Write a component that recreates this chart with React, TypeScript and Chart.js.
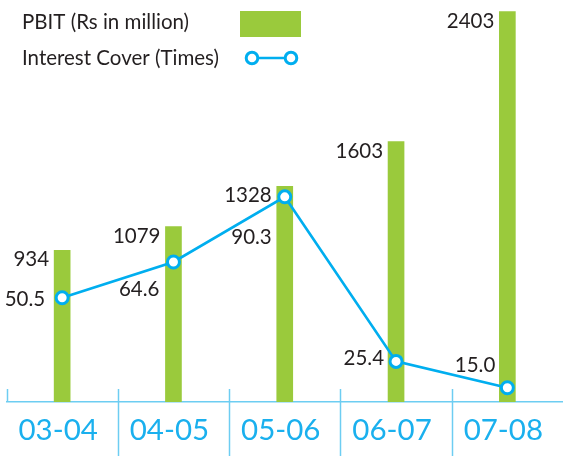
import { useEffect, useRef } from "react";
import { Chart, registerables } from "chart.js";

Chart.register(...registerables);

// ---- data ----
const categories = ["03-04", "04-05", "05-06", "06-07", "07-08"];
const pbit = [934, 1079, 1328, 1603, 2403];
const interestCover = [50.5, 64.6, 90.3, 25.4, 15.0];
const legendLabels = ["PBIT (Rs in million)", "Interest Cover (Times)"];

// ---- styles ----
const GREEN = "#9aca3c";
const CYAN = "#00aeef";
const AXIS = "#6dcdf2";
const TEXT = "#231f20";
const FONT = "Lato";
// label offsets for the line values (relative to point: right edge dx, baseline dy)
const lineLabelOffsets = [
  [-17, 8],
  [-14, 34],
  [-13, 47],
  [-12, 4],
  [-12, -16],
];

const overlayPlugin = {
  id: "overlay",
  afterDraw(chart: any) {
    const ctx = chart.ctx;
    const xs = chart.scales.x;
    const area = chart.chartArea;
    ctx.save();
    // separators
    ctx.strokeStyle = AXIS;
    ctx.lineWidth = 1.5;
    const step = xs.getPixelForValue(1) - xs.getPixelForValue(0);
    for (let i = 0; i < categories.length; i++) {
      const x = Math.round(xs.getPixelForValue(i) - step / 2) + 0.5;
      ctx.beginPath();
      ctx.moveTo(x, area.bottom - 13);
      ctx.lineTo(x, i === 0 ? area.bottom : chart.height);
      ctx.stroke();
    }
    // bar labels
    ctx.font = `20.5px ${FONT}`;
    ctx.fillStyle = TEXT;
    ctx.textAlign = "right";
    ctx.textBaseline = "alphabetic";
    const barMeta = chart.getDatasetMeta(1);
    barMeta.data.forEach((el: any, i: number) => {
      const left = el.x - el.width / 2;
      ctx.fillText(String(pbit[i]), left - 5, el.y + 16);
    });
    const lineMeta = chart.getDatasetMeta(0);
    lineMeta.data.forEach((el: any, i: number) => {
      const [dx, dy] = lineLabelOffsets[i];
      ctx.fillText(interestCover[i].toFixed(1), el.x + dx, el.y + dy);
    });
    // legend
    ctx.textAlign = "left";
    ctx.fillText(legendLabels[0], 22, 29);
    ctx.fillText(legendLabels[1], 22, 65);
    ctx.fillStyle = GREEN;
    ctx.fillRect(240, 11, 61, 26);
    ctx.strokeStyle = CYAN;
    ctx.lineWidth = 2.7;
    ctx.beginPath();
    ctx.moveTo(252, 58);
    ctx.lineTo(291, 58);
    ctx.stroke();
    for (const cx of [252, 291]) {
      ctx.beginPath();
      ctx.arc(cx, 58, 5.8, 0, Math.PI * 2);
      ctx.fillStyle = "#fff";
      ctx.fill();
      ctx.lineWidth = 3;
      ctx.stroke();
    }
    ctx.restore();
  },
};

export default function App() {
  const ref = useRef<HTMLCanvasElement | null>(null);
  useEffect(() => {
    if (!ref.current) return;
    const chart = new Chart(ref.current, {
      type: "bar",
      data: {
        labels: categories,
        datasets: [
          {
            type: "line",
            label: legendLabels[1],
            data: interestCover,
            yAxisID: "y2",
            borderColor: CYAN,
            borderWidth: 2.7,
            pointRadius: 6,
            pointBorderWidth: 3,
            pointBackgroundColor: "#ffffff",
            pointBorderColor: CYAN,
            tension: 0,
            order: 0,
            clip: false,
          } as any,
          {
            type: "bar",
            label: legendLabels[0],
            data: pbit,
            yAxisID: "y",
            backgroundColor: GREEN,
            barThickness: 16,
            order: 1,
          },
        ],
      },
      options: {
        animation: false,
        responsive: false,
        devicePixelRatio: 1,
        layout: { autoPadding: false, padding: { left: 6.5, right: 0, top: 0, bottom: 0 } },
        plugins: { legend: { display: false }, tooltip: { enabled: false } },
        scales: {
          x: {
            grid: { display: false, drawTicks: false },
            border: { display: true, color: AXIS, width: 1.5 },
            ticks: {
              color: "#1ab0ee",
              font: { family: FONT, size: 29.5 },
              padding: 11,
              labelOffset: -4,
              maxRotation: 0,
              autoSkip: false,
            },
            afterFit: (scale: any) => {
              scale.height = 54;
            },
          },
          y: { display: false, min: 0, max: 2474 },
          y2: { display: false, min: 9.4, max: 167.9 },
        },
      },
      plugins: [overlayPlugin],
    });
    return () => chart.destroy();
  }, []);
  return (
    <div style={{ position: "absolute", left: 0, top: 0, width: 563, height: 456 }}>
      <canvas ref={ref} width={563} height={456} style={{ display: "block" }} />
    </div>
  );
}
